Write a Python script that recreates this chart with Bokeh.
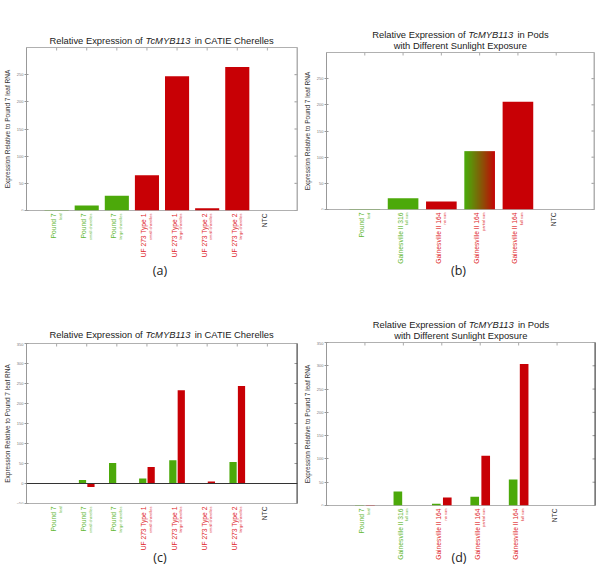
import numpy as np
from bokeh.plotting import figure
from bokeh.models import Range1d, FixedTicker, Label, LabelSet, ColumnDataSource, Span
from bokeh.layouts import row, column
from bokeh.core.properties import value, field
from bokeh.embed import file_html
from bokeh.resources import INLINE

# ---------------- data ----------------
a_names = ["Pound 7", "Pound 7", "Pound 7", "UF 273 Type 1", "UF 273 Type 1",
           "UF 273 Type 2", "UF 273 Type 2", "NTC"]
a_subs = ["leaf", "small cherelles", "large cherelles", "small cherelles",
          "large cherelles", "small cherelles", "large cherelles", ""]
a_kind = ["ref", "ref", "ref", "test", "test", "test", "test", "ntc"]
a_values = [1, 9, 27, 65, 247, 4, 264, 0]

b_names = ["Pound 7", "Gainesville II 316", "Gainesville II 164", "Gainesville II 164",
           "Gainesville II 164", "NTC"]
b_subs = ["leaf", "full sun", "no sun", "partial sun", "full sun", ""]
b_kind = ["ref", "ref", "test", "mix", "test", "ntc"]
b_values = [1, 21.7, 15.4, 111.5, 206, 0]

c_green = [1, 9, 51, 12.5, 58, 1, 54, 0]
c_red = [1, -8.5, 1, 41, 233, 5, 244, 0]

d_kind = ["ref", "ref", "test", "test", "test", "ntc"]
d_green = [1, 30, 3.6, 18.7, 56, 0]
d_red = [1, 0, 17, 107, 304, 0]

ab_yticks = [0, 50, 100, 150, 200, 250]
c_yticks = [-50, 0, 50, 100, 150, 200, 250, 300, 350]
d_yticks = [0, 50, 100, 150, 200, 250, 300, 350]

ylabel = "Expression Relative to Pound 7 leaf RNA"

title_cherelles = [[("Relative Expression of", "normal", 10.226), ("TcMYB113", "italic", 5.224),
                    ("in CATIE Cherelles", "normal", 8.502)]]
title_pods = [[("Relative Expression of", "normal", 10.226), ("TcMYB113", "italic", 5.224),
               ("in Pods", "normal", 3.335)],
              [("with Different Sunlight Exposure", "normal", 14.228)]]

# ---------------- style ----------------
FONT = "Liberation Sans"
GREEN = "#4ca90a"
RED = "#c80005"
TXT = {"ref": "#62b732", "test": "#e0282c", "mix": "#e0282c", "ntc": "#333333"}
BAR = {"ref": GREEN, "test": RED, "mix": RED, "ntc": "#333333"}
TSIZE = 9.4
W = 300


def blank_fig(h, xr, left, right):
    f = figure(width=W, height=h, x_range=xr, y_range=Range1d(0, 1),
               output_backend="svg", toolbar_location=None, tools="",
               x_axis_location=None, y_axis_location=None,
               min_border=0, min_border_left=left, min_border_right=right,
               min_border_top=0, min_border_bottom=0)
    f.grid.visible = False
    f.outline_line_color = None
    return f


def panel(ncat, yr, yticks, heights, left, right, title_lines, title_ys,
          names, subs, kinds, tag, tag_y, right_color):
    ht, hp, hl = heights
    xr = Range1d(-1, ncat)
    # ---- plot figure ----
    p = figure(width=W, height=hp, x_range=xr, y_range=Range1d(*yr),
               output_backend="svg", toolbar_location=None, tools="",
               x_axis_location=None, min_border=0,
               min_border_left=left, min_border_right=right,
               min_border_top=1, min_border_bottom=1)
    p.grid.visible = False
    p.outline_line_color = "#b0b0b0"
    ya = p.yaxis[0]
    ya.ticker = FixedTicker(ticks=yticks)
    ya.minor_tick_line_color = None
    ya.major_tick_in = 2
    ya.major_tick_out = 2
    ya.major_tick_line_color = "#999999"
    ya.axis_line_color = "#999999"
    ya.major_label_text_font = FONT
    ya.major_label_text_font_size = "4px"
    ya.major_label_text_color = "#777777"
    ya.major_label_standoff = 1
    ya.axis_label = ylabel
    ya.axis_label_text_font = FONT
    ya.axis_label_text_font_size = "6.5px"
    ya.axis_label_text_font_style = "normal"
    ya.axis_label_text_color = "#333333"
    ya.axis_label_standoff = 3
    # inward ticks on top (at categories) and right (at y ticks)
    cats = list(range(ncat))
    p.scatter(x=cats, y=[yr[1]] * ncat, marker="dash", size=6, angle=np.pi / 2,
              line_color="#aaaaaa", line_width=1)
    p.scatter(x=[ncat] * len(yticks), y=yticks, marker="dash", size=6,
              line_color="#999999", line_width=1)
    p.add_layout(Span(location=ncat, dimension="height", line_color=right_color, line_width=2))

    # ---- title figure ----
    t = blank_fig(ht, xr, left, right)
    xc = (xr.start + xr.end) / 2
    for parts, ty in zip(title_lines, title_ys):
        total = sum(adv for _, _, adv in parts)
        off = -total * TSIZE / 2
        for text, style, adv in parts:
            t.add_layout(Label(x=xc, y=ty, y_units="screen", x_offset=off, text=text,
                               text_font=FONT, text_font_size=f"{TSIZE}px", text_font_style=style,
                               text_color="#222222", text_align="left", text_baseline="middle"))
            off += adv * TSIZE

    # ---- label figure ----
    lf = blank_fig(hl, xr, left, right)
    src = ColumnDataSource(dict(x=cats, y=[hl - 2] * ncat, name=names, sub=subs,
                                color=[TXT[k] for k in kinds]))
    lf.add_layout(LabelSet(x="x", y="y", y_units="screen", text="name", source=src,
                           angle=np.pi / 2, x_offset=-3, text_align="right",
                           text_baseline="middle", text_font=value(FONT),
                           text_font_size="6.7px", text_color=field("color")))
    lf.add_layout(LabelSet(x="x", y="y", y_units="screen", text="sub", source=src,
                           angle=np.pi / 2, x_offset=3.6, text_align="right",
                           text_baseline="middle", text_font=value(FONT),
                           text_font_size="4px", text_color=field("color")))
    lf.add_layout(Label(x=xc, y=tag_y, y_units="screen", x_offset=-2, text=tag,
                        text_font="Open Sans", text_font_size="12.5px", text_color="#222222",
                        text_align="center", text_baseline="middle"))
    return p, column(t, p, lf)


# ---------------- panel (a) ----------------
pa, col_a = panel(len(a_names), (0, 300), ab_yticks, (46, 165, 82), 26, 3,
                  title_cherelles, [6], a_names, a_subs, a_kind, "(a)", 23, "#b0b0b0")
pa.vbar(x=list(range(len(a_names))), top=a_values, width=0.8,
        color=[BAR[k] for k in a_kind], line_alpha=0)

# ---------------- panel (b) ----------------
pb, col_b = panel(len(b_names), (0, 300), ab_yticks, (51, 159, 83), 26, 6,
                  title_pods, [17.5, 6], b_names, b_subs, b_kind, "(b)", 23, "#b0b0b0")
xb_pos = list(range(len(b_names)))
solid = [k != "mix" for k in b_kind]
pb.vbar(x=[x for x, s in zip(xb_pos, solid) if s], top=[v for v, s in zip(b_values, solid) if s],
        width=0.8, color=[BAR[k] for k, s in zip(b_kind, solid) if s], line_alpha=0)
ncol = 80
tt = np.linspace(0, 1, ncol) ** 1.2
g_rgb = np.array([0x4c, 0xa9, 0x0a])
r_rgb = np.array([0xc8, 0x00, 0x05])
img = np.empty((1, ncol), dtype=np.uint32)
view = img.view(dtype=np.uint8).reshape((1, ncol, 4))
for i in range(ncol):
    c = (1 - tt[i]) * g_rgb + tt[i] * r_rgb
    view[0, i, 0], view[0, i, 1], view[0, i, 2], view[0, i, 3] = int(c[0]), int(c[1]), int(c[2]), 255
for x, v, k in zip(xb_pos, b_values, b_kind):
    if k == "mix":
        pb.image_rgba(image=[img], x=x - 0.4, y=0, dw=0.8, dh=v)

# ---------------- panel (c) ----------------
pc, col_c = panel(len(a_names), (-50, 350), c_yticks, (49, 162, 83), 26, 3,
                  title_cherelles, [7.7], a_names, a_subs, a_kind, "(c)", 30, "#444444")
pc.add_layout(Span(location=0, dimension="width", line_color="#333333", line_width=1))
xa_pos = list(range(len(a_names)))
pc.vbar(x=[x - 0.14 for x in xa_pos], top=c_green, width=0.24, color=GREEN, line_alpha=0)
pc.vbar(x=[x + 0.14 for x in xa_pos], top=c_red, width=0.24, color=RED, line_alpha=0)

# ---------------- panel (d) ----------------
pd_, col_d = panel(len(b_names), (0, 350), d_yticks, (48, 165, 81), 26, 5,
                   title_pods, [17.5, 6.5], b_names, b_subs, d_kind, "(d)", 30, "#444444")
pd_.vbar(x=[x - 0.143 for x in xb_pos], top=d_green, width=0.225, color=GREEN, line_alpha=0)
pd_.vbar(x=[x + 0.143 for x in xb_pos], top=d_red, width=0.225, color=RED, line_alpha=0)

layout = column(row(col_a, col_b), row(col_c, col_d))
open("out.html", "w").write(file_html(layout, INLINE))
